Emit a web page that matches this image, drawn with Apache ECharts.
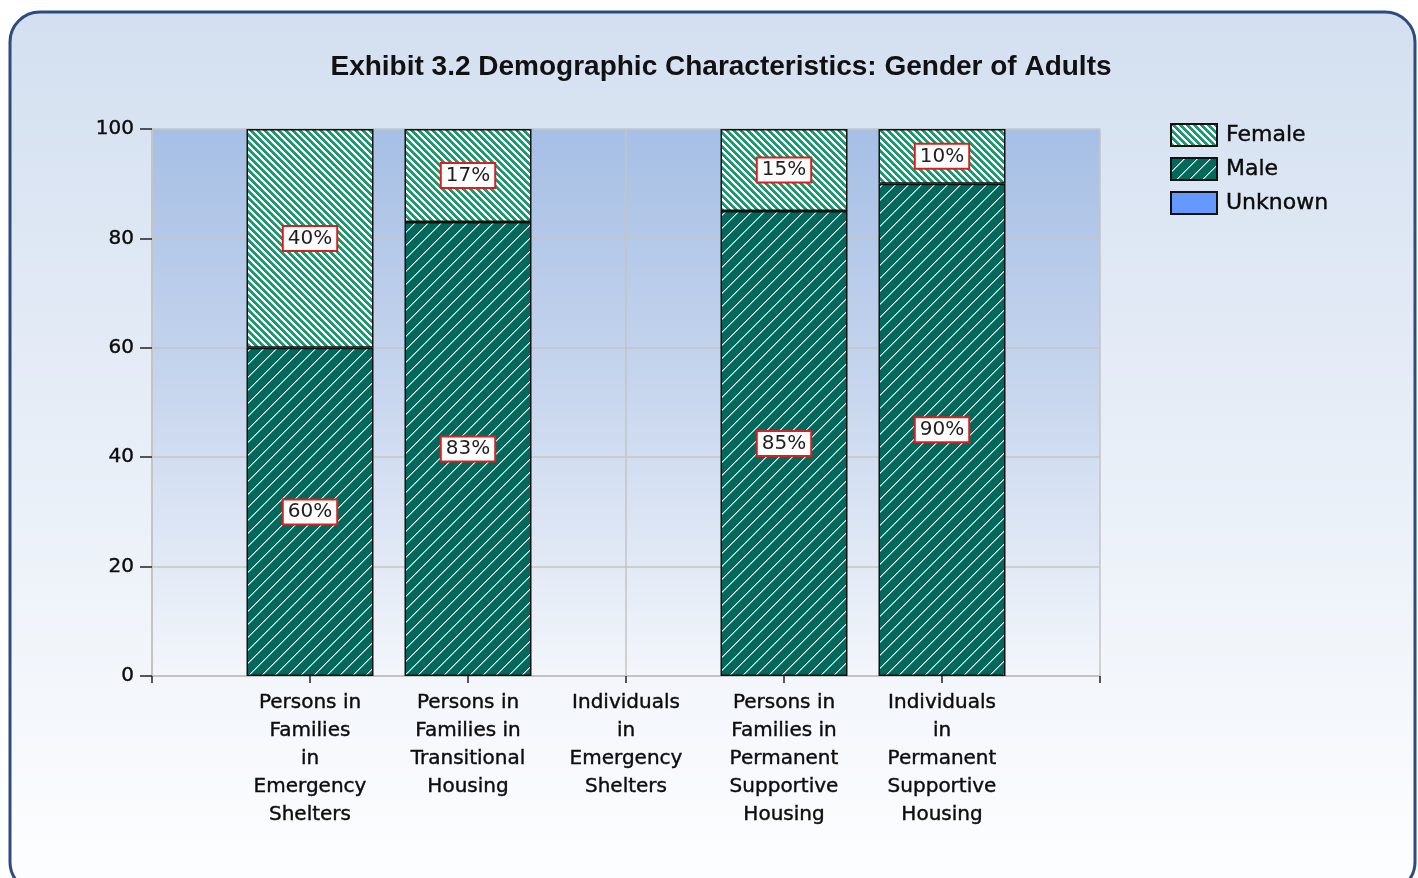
<!DOCTYPE html>
<html>
<head>
<meta charset="utf-8">
<title>Gender of Adults</title>
<script src="https://cdn.jsdelivr.net/npm/echarts@6/dist/echarts.min.js"></script>
<style>
  html, body { margin: 0; padding: 0; background: #fff; }
  #main { width: 1418px; height: 878px; }
</style>
</head>
<body>
<div id="main"></div>
<script>
// data (percent of adults)
var categories = [
    'Persons in\nFamilies\nin\nEmergency\nShelters',
    'Persons in\nFamilies in\nTransitional\nHousing',
    'Individuals\nin\nEmergency\nShelters',
    'Persons in\nFamilies in\nPermanent\nSupportive\nHousing',
    'Individuals\nin\nPermanent\nSupportive\nHousing'
];
var female = [40, 17, null, 15, 10];
var male = [60, 83, null, 85, 90];
var unknown = [null, null, null, null, null];
var yTicks = { min: 0, max: 100, interval: 20 };

// hatch tiles: "/" dark teal with thin white lines, "\" green on white
function hatch(size, bg, lines, dir) {
    var c = document.createElement('canvas');
    c.width = size; c.height = size;
    var ctx = c.getContext('2d');
    var img = ctx.createImageData(size, size);
    function rgb(h) { return [parseInt(h.substr(1, 2), 16), parseInt(h.substr(3, 2), 16), parseInt(h.substr(5, 2), 16)]; }
    var b = rgb(bg), ls = lines.map(rgb);
    for (var y = 0; y < size; y++) {
        for (var x = 0; x < size; x++) {
            var k = dir > 0 ? (x + y) % size : ((x - y) % size + size) % size;
            var col = k < ls.length ? ls[k] : b;
            var i = (y * size + x) * 4;
            img.data[i] = col[0]; img.data[i + 1] = col[1]; img.data[i + 2] = col[2]; img.data[i + 3] = 255;
        }
    }
    ctx.putImageData(img, 0, 0);
    return c;
}

var maleFill = { image: hatch(13, '#03685c', ['#e6f3f0', '#79b8ae'], 1), repeat: 'repeat' };
var femaleFill = { image: hatch(7, '#ffffff', ['#17996b', '#17996b', '#17996b', '#3aa880'], -1), repeat: 'repeat' };

// pad one empty slot each side so the bars sit on the ticks like the original
var axisCats = [''].concat(categories, ['']);
function pad(arr) { return [null].concat(arr, [null]); }

var font = 'DejaVu Sans';
var ink = '#0c0c0c';
var boxLabel = {
    show: true,
    position: 'inside',
    formatter: function (p) { return p.value + '%'; },
    fontFamily: font,
    fontSize: 20,
    color: '#1e1e1e',
    backgroundColor: '#ffffff',
    borderColor: '#d91f1f',
    borderWidth: 2,
    padding: [2, 4, 1, 4]
};
var barBorder = { borderColor: '#111', borderWidth: 1.5 };

var myChart = echarts.init(document.getElementById('main'));

var option = {
    animation: false,
    graphic: [{
        type: 'rect',
        z: -10,
        silent: true,
        shape: { x: 10, y: 12, width: 1405, height: 880, r: 30 },
        style: {
            fill: {
                type: 'linear', x: 0, y: 0, x2: 0, y2: 1,
                colorStops: [{ offset: 0, color: '#d3dff0' }, { offset: 1, color: '#fdfeff' }]
            },
            stroke: '#2d4c7c',
            lineWidth: 3
        }
    }],
    title: {
        text: 'Exhibit 3.2 Demographic Characteristics: Gender of Adults',
        left: 716,
        textAlign: 'center',
        top: 48,
        textStyle: { fontFamily: 'Liberation Sans', fontWeight: 'bold', fontSize: 28, color: '#111' }
    },
    legend: {
        data: ['Female', 'Male', 'Unknown'],
        orient: 'vertical',
        left: 1165,
        top: 118,
        itemWidth: 46,
        itemHeight: 22,
        itemGap: 10,
        icon: 'rect',
        textStyle: {
            fontFamily: font, fontSize: 22, color: ink, textBorderColor: ink, textBorderWidth: 0.4,
            padding: [0, 0, 0, 4]
        }
    },
    grid: {
        left: 152, right: 318, top: 129, bottom: 202,
        show: true,
        borderWidth: 0,
        backgroundColor: {
            type: 'linear', x: 0, y: 0, x2: 0, y2: 1,
            colorStops: [{ offset: 0, color: '#a6bfe5' }, { offset: 0.5, color: '#c9d7ee' }, { offset: 1, color: '#f3f6fb' }]
        }
    },
    xAxis: {
        type: 'category',
        data: axisCats,
        boundaryGap: false,
        axisLine: { lineStyle: { color: '#c4c4c4', width: 2 } },
        axisTick: { show: true, length: 7, interval: 0, lineStyle: { color: '#222', width: 1.5 } },
        splitLine: { show: true, interval: 0, lineStyle: { color: '#c4c4c4', width: 1.5 } },
        axisLabel: {
            interval: 0, margin: 13, fontFamily: font, fontSize: 20, lineHeight: 28,
            color: ink, textBorderColor: ink, textBorderWidth: 0.4
        }
    },
    yAxis: {
        type: 'value',
        min: yTicks.min, max: yTicks.max, interval: yTicks.interval,
        axisLine: { show: true, lineStyle: { color: '#c4c4c4', width: 2 } },
        axisTick: { show: true, length: 12, lineStyle: { color: '#222', width: 1.5 } },
        splitLine: { lineStyle: { color: '#c4c4c4', width: 1.5 } },
        axisLabel: { margin: 18, fontFamily: font, fontSize: 20, color: ink, textBorderColor: ink, textBorderWidth: 0.4 }
    },
    series: [{
        name: 'Male',
        type: 'bar',
        stack: 'g',
        barWidth: 127,
        data: pad(male),
        itemStyle: Object.assign({ color: maleFill }, barBorder),
        label: boxLabel
    }, {
        name: 'Female',
        type: 'bar',
        stack: 'g',
        barWidth: 127,
        data: pad(female),
        itemStyle: Object.assign({ color: femaleFill }, barBorder),
        label: boxLabel
    }, {
        name: 'Unknown',
        type: 'bar',
        stack: 'g',
        barWidth: 127,
        data: pad(unknown),
        itemStyle: Object.assign({ color: '#6699ff' }, barBorder),
        label: boxLabel
    }]
};

myChart.setOption(option);
</script>
</body>
</html>
